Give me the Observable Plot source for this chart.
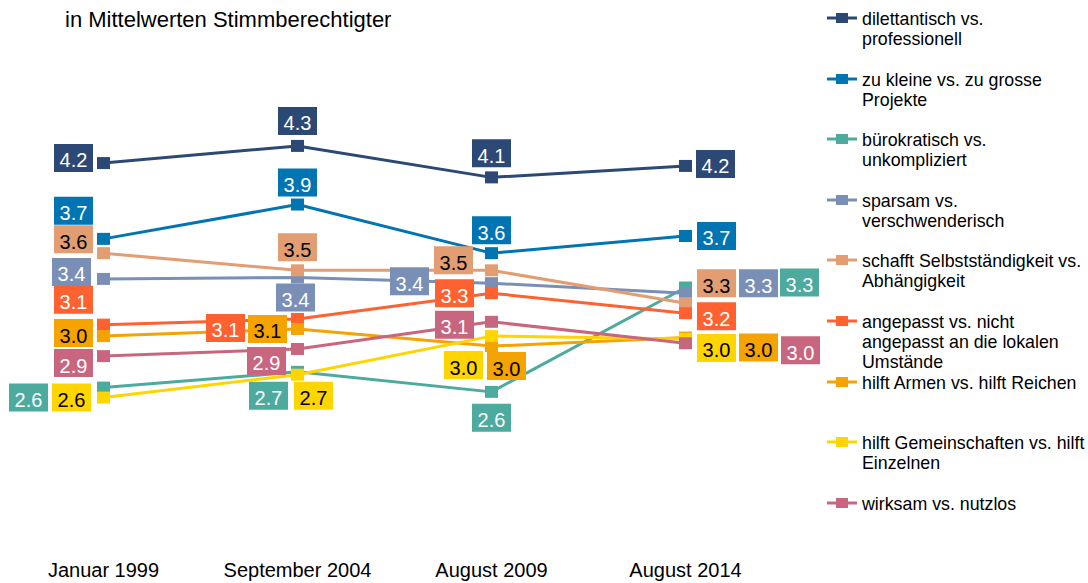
<!DOCTYPE html>
<html><head><meta charset="utf-8">
<script src="https://cdn.jsdelivr.net/npm/d3@7"></script>
<script src="https://cdn.jsdelivr.net/npm/@observablehq/plot@0.6"></script>
<style>
body{margin:0;background:#fff;font-family:"Liberation Sans",Arial,sans-serif;}
#wrap{position:relative;width:1088px;height:583px;overflow:hidden;background:#fff;}
#chart{position:absolute;left:0;top:0;}
#title{position:absolute;left:65px;top:9px;font-size:22px;line-height:22px;color:#000;white-space:nowrap;}
.lg{position:absolute;left:862px;font-size:17.8px;line-height:20px;color:#000;white-space:nowrap;}
.lgsym{position:absolute;left:826px;}
</style></head><body>
<div id="wrap"><div id="chart"></div><div id="title">in Mittelwerten Stimmberechtigter</div><div id="legend"></div></div>
<script>
// ---- data ----
const dates = ["Januar 1999", "September 2004", "August 2009", "August 2014"];
const seriesNames = [
  "dilettantisch vs. professionell",
  "zu kleine vs. zu grosse Projekte",
  "bürokratisch vs. unkompliziert",
  "sparsam vs. verschwenderisch",
  "schafft Selbstständigkeit vs. Abhängigkeit",
  "angepasst vs. nicht angepasst an die lokalen Umstände",
  "hilft Armen vs. hilft Reichen",
  "hilft Gemeinschaften vs. hilft Einzelnen",
  "wirksam vs. nutzlos"
];
const legendText = [
  ["dilettantisch vs.", "professionell"],
  ["zu kleine vs. zu grosse", "Projekte"],
  ["bürokratisch vs.", "unkompliziert"],
  ["sparsam vs.", "verschwenderisch"],
  ["schafft Selbstständigkeit vs.", "Abhängigkeit"],
  ["angepasst vs. nicht", "angepasst an die lokalen", "Umstände"],
  ["hilft Armen vs. hilft Reichen"],
  ["hilft Gemeinschaften vs. hilft", "Einzelnen"],
  ["wirksam vs. nutzlos"]
];
const dilettantisch = [4.21, 4.33, 4.11, 4.19];
const projekte      = [3.68, 3.92, 3.58, 3.70];
const buerokratisch = [2.64, 2.75, 2.61, 3.34];
const sparsam       = [3.40, 3.41, 3.37, 3.30];
const selbst        = [3.58, 3.46, 3.46, 3.23];
const angepasst     = [3.08, 3.12, 3.30, 3.16];
const armen         = [3.00, 3.05, 2.93, 2.99];
const gemeinschaft  = [2.57, 2.73, 3.00, 2.98];
const wirksam       = [2.86, 2.91, 3.10, 2.95];
const seriesValues = [dilettantisch, projekte, buerokratisch, sparsam, selbst, angepasst, armen, gemeinschaft, wirksam];

// printed data labels
const dataLabels = [
  ["4.2", "4.3", "4.1", "4.2"],
  ["3.7", "3.9", "3.6", "3.7"],
  ["2.6", "2.7", "2.6", "3.3"],
  ["3.4", "3.4", "3.4", "3.3"],
  ["3.6", "3.5", "3.5", "3.3"],
  ["3.1", "3.1", "3.3", "3.2"],
  ["3.0", "3.1", "3.0", "3.0"],
  ["2.6", "2.7", "3.0", "3.0"],
  ["2.9", "2.9", "3.1", "3.0"]
];

// ---- styles / layout ----
const colors = ["#2C4874", "#0075B2", "#4CAA9F", "#7A8FB5", "#E39D73", "#FF6130", "#F5A300", "#FFD500", "#C9667F"];
const textColors = ["#fff", "#fff", "#fff", "#fff", "#000", "#fff", "#000", "#000", "#fff"];
const labelOffsets = [
  [[-30, -5], [0, -25], [0, -24], [30, -2]],
  [[-30, -28], [0, -22], [0, -23], [31, 0]],
  [[-75, 10], [-29, 24], [0, 26], [114, -5]],
  [[-32, -7], [-2, 20], [-82, -2], [73, -10]],
  [[-30, -14], [0, -23], [-38, -10], [31, -20]],
  [[-30, -25], [-72, 9], [-37, 0], [31, 3]],
  [[-30, -3], [-30, 0], [15, 20], [73, 10]],
  [[-32, 0], [16, 21], [-28, 29], [31, 9]],
  [[-30, 7], [-31, 12], [-37, 3], [115, 7]]
];

const rows = [];
seriesValues.forEach((vals, s) => vals.forEach((v, i) => rows.push({
  series: seriesNames[s], date: dates[i], value: v, label: dataLabels[s][i], s, i
})));

const boxSym = {draw(ctx) { ctx.rect(-19.5, -14, 39, 28); }};
const markSym = {draw(ctx) { ctx.rect(-6.5, -6, 13, 12); }};

const labelMarks = rows.flatMap(r => {
  const [dx, dy] = labelOffsets[r.s][r.i];
  return [
    Plot.dot([r], {x: "date", y: "value", dx, dy, symbol: boxSym, r: 10, fill: colors[r.s], stroke: "none"}),
    Plot.text([r], {x: "date", y: "value", dx, dy: dy + 3, text: "label", fill: textColors[r.s], fontSize: 20})
  ];
});

const chart = Plot.plot({
  width: 1088, height: 583,
  marginLeft: 102, marginRight: 402, marginTop: 0, marginBottom: 24,
  x: {type: "point", domain: dates, padding: 0, label: null, tickSize: 0, tickPadding: 3},
  y: {domain: [2.4, 4.5], range: [421.4, 121.1], axis: null},
  color: {domain: seriesNames, range: colors},
  style: {fontFamily: "'Liberation Sans', Arial, sans-serif", fontSize: "20px", background: "white", color: "#000", overflow: "visible"},
  marks: [
    Plot.line(rows, {x: "date", y: "value", z: "series", stroke: "series", strokeWidth: 3}),
    Plot.dot(rows, {x: "date", y: "value", fill: "series", symbol: markSym, r: 6, stroke: "none"}),
    ...labelMarks
  ]
});
document.getElementById("chart").appendChild(chart);

// ---- legend ----
const legend = document.getElementById("legend");
legendText.forEach((lines, k) => {
  const top = 12 + k * 60.6;
  const sym = document.createElementNS("http://www.w3.org/2000/svg", "svg");
  sym.setAttribute("class", "lgsym");
  sym.setAttribute("width", 32); sym.setAttribute("height", 14);
  sym.style.top = (top - 1) + "px";
  sym.innerHTML = `<line x1="1" x2="31" y1="7" y2="7" stroke="${colors[k]}" stroke-width="3"/><rect x="10" y="2" width="12" height="10" fill="${colors[k]}"/>`;
  legend.appendChild(sym);
  const div = document.createElement("div");
  div.className = "lg";
  div.style.top = (top - 3) + "px";
  div.innerHTML = lines.join("<br>");
  legend.appendChild(div);
});
</script>
</body></html>
